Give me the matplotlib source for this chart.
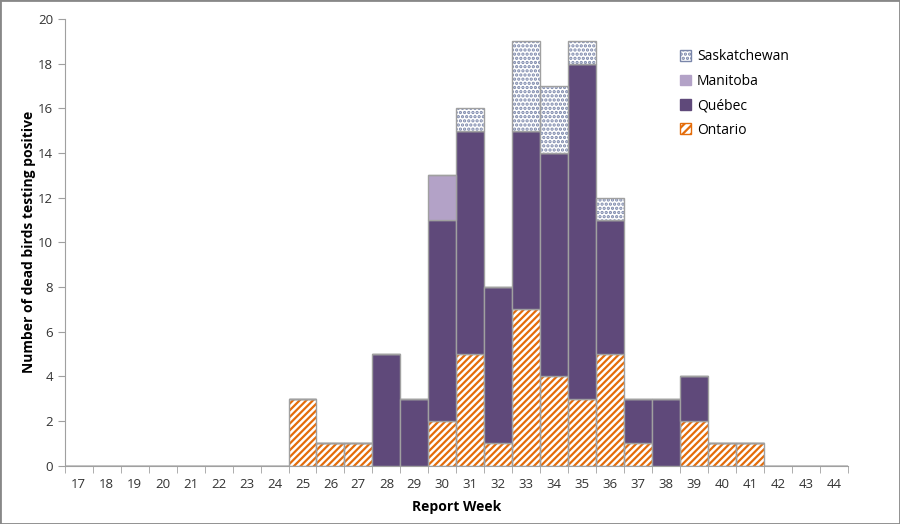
import numpy as np
import matplotlib
matplotlib.use("Agg")
import matplotlib.pyplot as plt
from matplotlib.patches import Patch, Rectangle

weeks = list(range(17, 45))
ontario = [0]*8 + [3, 1, 1, 0, 0, 2, 5, 1, 7, 4, 3, 5, 1, 0, 2, 1, 1, 0, 0, 0]
quebec = [0]*8 + [0, 0, 0, 5, 3, 9, 10, 7, 8, 10, 15, 6, 2, 3, 2, 0, 0, 0, 0, 0]
manitoba = [0]*8 + [0, 0, 0, 0, 0, 2, 0, 0, 0, 0, 0, 0, 0, 0, 0, 0, 0, 0, 0, 0]
sask = [0]*8 + [0, 0, 0, 0, 0, 0, 1, 0, 4, 3, 1, 1, 0, 0, 0, 0, 0, 0, 0, 0]

plt.rcParams['font.family'] = ['Open Sans', 'DejaVu Sans']
plt.rcParams['hatch.linewidth'] = 1.6

fig = plt.figure(figsize=(9, 5.24), dpi=100)
ax = fig.add_axes([0.072, 0.111, 0.870, 0.853])

x = np.arange(len(weeks))
ont = np.array(ontario)
que = np.array(quebec)
man = np.array(manitoba)
sas = np.array(sask)
edge = '#A0A0A0'

# ontario: hatch drawn in orange, then gray outline on top
ax.bar(x, ont, width=1, color='white', edgecolor='#E46C0A', hatch='/////', linewidth=0)
ax.bar(x, ont, width=1, color='none', edgecolor=edge, linewidth=1)
ax.bar(x, que, width=1, bottom=ont, color='#5F497A', edgecolor=edge, linewidth=1)
ax.bar(x, man, width=1, bottom=ont+que, color='#B3A2C7', edgecolor=edge, linewidth=1)
b = ont + que + man
ax.bar(x, sas, width=1, bottom=b, color='white', edgecolor='#7A86AA', hatch='....', linewidth=0)
ax.bar(x, sas, width=1, bottom=b, color='none', edgecolor=edge, linewidth=1)

ax.set_xlim(-0.5, len(weeks) - 0.5)
ax.set_ylim(0, 20)
ax.set_yticks(range(0, 21, 2))
ax.set_xticks(x)
ax.set_xticklabels([str(w) for w in weeks])
ax.set_xticks(np.arange(-0.5, len(weeks), 1), minor=True)
ax.tick_params(axis='x', which='major', length=0, labelsize=9.5, colors='#333333', pad=9)
ax.tick_params(axis='x', which='minor', length=5, color='#A0A0A0')
ax.tick_params(axis='y', length=5, color='#A0A0A0', labelsize=9.5, labelcolor='#333333')
for s in ['top', 'right']:
    ax.spines[s].set_visible(False)
for s in ['left', 'bottom']:
    ax.spines[s].set_color('#A0A0A0')

ax.set_xlabel('Report Week', fontsize=10, fontweight='bold', labelpad=6)
ax.set_ylabel('Number of dead birds testing positive', fontsize=10, fontweight='bold', labelpad=1)

handles = [
    Patch(facecolor='white', edgecolor='#7A86AA', hatch='....', label='Saskatchewan'),
    Patch(facecolor='#B3A2C7', edgecolor='#B3A2C7', label='Manitoba'),
    Patch(facecolor='#5F497A', edgecolor='#5F497A', label='Québec'),
    Patch(facecolor='white', edgecolor='#E46C0A', hatch='////', label='Ontario'),
]
ax.legend(handles=handles, loc='upper left', bbox_to_anchor=(0.77, 0.96), frameon=False,
          fontsize=10, handlelength=0.8, handleheight=0.8, handletextpad=0.4, labelspacing=0.68)

fig.patches.append(Rectangle((0, 0), 1, 1, transform=fig.transFigure, fill=False,
                             edgecolor='#888888', linewidth=2))

fig.savefig('out.png', dpi=100)
